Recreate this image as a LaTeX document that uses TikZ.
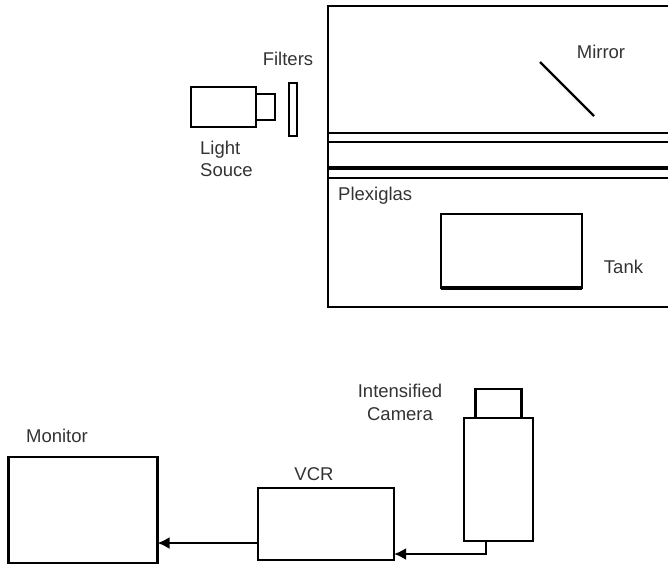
\documentclass[tikz,border=0pt]{standalone}
\usepackage{fontspec}
\setmainfont{Liberation Sans}
\usetikzlibrary{arrows.meta}
\tikzset{
  box/.style={draw,line width=2.2pt,inner sep=0pt,outer sep=0pt},
  txt/.style={inner sep=0pt,text=black!80,font=\fontsize{18.5}{22.5}\selectfont},
  flow/.style={line width=2.2pt,-{Latex[length=12pt,width=12pt]}}
}
\begin{document}
\begin{tikzpicture}[x=1pt,y=-1pt]
\useasboundingbox (0,0) rectangle (668,566);
% room and walls
\coordinate (TL) at (328,6);
\coordinate (BL) at (328,307);
\draw[line width=2.2pt] (668,6)--(TL)--(BL)--(668,307);
\draw[line width=2.2pt] (328,133)--(668,133);
\draw[line width=2.2pt] (328,142)--(668,142);
\draw[line width=3.2pt] (328,168)--(668,168);
\draw[line width=2.2pt] (328,178)--(668,178);
\draw[line width=2.2pt] (540,62)--(594,116); %mirror
% light source
\node[box,minimum width=65pt,minimum height=40pt] (lamp) at (223.5,107) {};
\node[box,minimum width=19pt,minimum height=26pt] (lens) at (265.5,107) {};
\node[box,minimum width=8pt,minimum height=53pt] (filter) at (293,109.5) {};
% tank
\node[box,minimum width=141pt,minimum height=74pt] (tank) at (511.5,251) {};
\draw[line width=3.2pt] (tank.south west)--(tank.south east);
% video chain
\node[box,minimum width=149pt,minimum height=106pt] (monitor) at (83,510) {};
\node[box,minimum width=136pt,minimum height=72pt] (vcr) at (326,524) {};
\node[box,minimum width=69pt,minimum height=123pt] (camera) at (498.5,479.5) {};
\node[box,minimum width=46pt,minimum height=29pt] (front) at (498.5,403.5) {};
\coordinate (vcrout) at ([yshift=-19pt]vcr.west);
\coordinate (camout) at ([xshift=-12.5pt]camera.south);
\coordinate (camturn) at (camout |- 0,554);
\draw[flow] (vcrout)--(vcrout -| monitor.east);
\draw[flow] (camout)--(camturn)--(camturn -| vcr.east);
% labels
\node[txt] (mirrorlab) at (601,52) {Mirror};
\node[txt] (filterlab) at (288,59) {Filters};
\node[txt,anchor=west,align=left] (lamplab) at (200,159) {Light\\Souce};
\node[txt,anchor=west] (plexilab) at (338,196) {Plexiglas};
\node[txt] (tanklab) at (623.5,267) {Tank};
\node[txt,align=center] (camlab) at (400,402.5) {Intensified\\Camera};
\node[txt] (vcrlab) at (314,474) {VCR};
\node[txt] (monlab) at (57,436) {Monitor};
\end{tikzpicture}
\end{document}
